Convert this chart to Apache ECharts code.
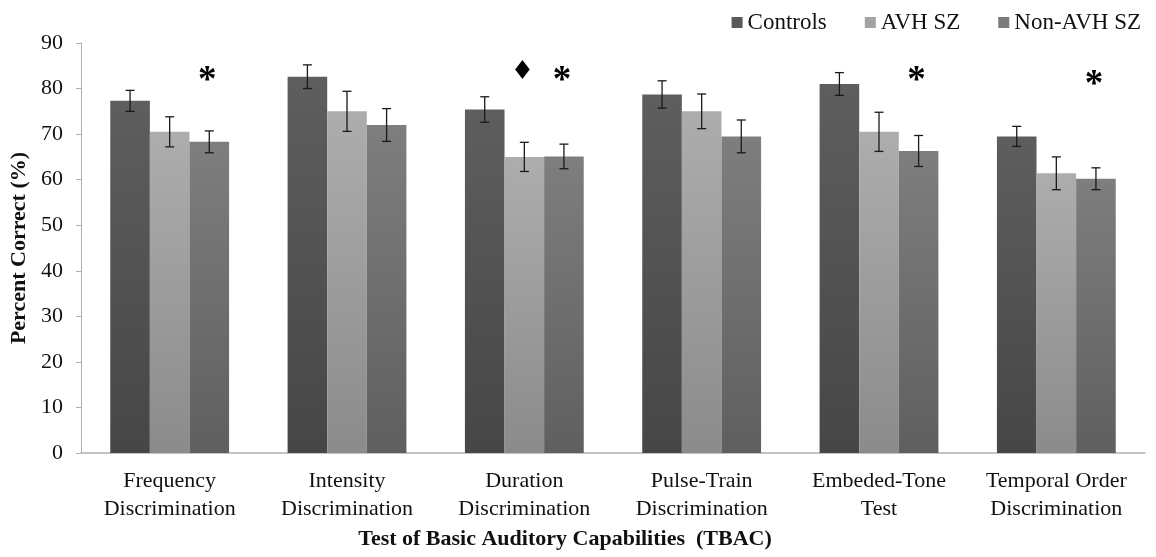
<!DOCTYPE html>
<html><head><meta charset="utf-8">
<script src="https://cdn.jsdelivr.net/npm/echarts@6/dist/echarts.min.js"></script>
<style>html,body{margin:0;padding:0;background:#fff}#c{width:1156px;height:557px}</style>
</head><body><div id="c"></div>
<script>
const categories = ['Frequency\nDiscrimination','Intensity\nDiscrimination','Duration\nDiscrimination','Pulse-Train\nDiscrimination','Embeded-Tone\nTest','Temporal Order\nDiscrimination'];
const seriesNames = ['Controls','AVH SZ','Non-AVH SZ'];
const controls = [77.3, 82.6, 75.4, 78.7, 81.0, 69.5];
const avh      = [70.5, 75.0, 65.0, 75.0, 70.5, 61.4];
const nonAvh   = [68.3, 72.0, 65.1, 69.5, 66.3, 60.2];
const controlsErr = [2.3, 2.6, 2.8, 3.0, 2.5, 2.2];
const avhErr      = [3.3, 4.4, 3.2, 3.8, 4.3, 3.6];
const nonAvhErr   = [2.4, 3.6, 2.7, 3.6, 3.4, 2.4];
// significance markers: [categoryIndex, seriesIndex, yValue, symbol]
const markers = [[0,2,83.3,'*'],[2,1,83.5,'♦'],[2,2,83.3,'*'],[4,2,83.3,'*'],[5,2,82.5,'*']];
const yTicks = {min:0, max:90, interval:10};

const values = [controls, avh, nonAvh];
const errs = [controlsErr, avhErr, nonAvhErr];
const gap = 0.33;
function grad(top, bottom){
  return new echarts.graphic.LinearGradient(0,0,0,1,[{offset:0,color:top},{offset:1,color:bottom}]);
}
const fills = [grad('#5e5e5e','#464646'), grad('#adadad','#8b8b8b'), grad('#7e7e7e','#5f5f5f')];
const legendColors = ['#5a5a5a','#a3a3a3','#7b7b7b'];
const serif = '"Liberation Serif", "Times New Roman", serif';

function offsetFor(api, s){
  const band = api.size([1,0])[0];
  const bw = band*(1-gap)/3;
  return {bw, off:(s-1)*bw};
}

const series = [];
values.forEach((v,i)=>{
  series.push({name:seriesNames[i], type:'bar', data:v, barGap:'0%', barCategoryGap:(gap*100)+'%',
    itemStyle:{color:fills[i]}, z:2});
});
values.forEach((v,i)=>{
  series.push({type:'custom', z:5, silent:true,
    data: v.map((val,j)=>[j, val-errs[i][j], val+errs[i][j]]),
    renderItem:function(params, api){
      const j = api.value(0);
      const lo = api.coord([j, api.value(1)]);
      const hi = api.coord([j, api.value(2)]);
      const o = offsetFor(api, i);
      const x = lo[0]+o.off;
      const cap = 4.5;
      const st = {stroke:'#1a1a1a', lineWidth:1.3};
      return {type:'group', children:[
        {type:'line', shape:{x1:x,y1:lo[1],x2:x,y2:hi[1]}, style:st},
        {type:'line', shape:{x1:x-cap,y1:lo[1],x2:x+cap,y2:lo[1]}, style:st},
        {type:'line', shape:{x1:x-cap,y1:hi[1],x2:x+cap,y2:hi[1]}, style:st}
      ]};
    }});
});
series.push({type:'custom', z:6, silent:true, data:markers,
  renderItem:function(params, api){
    const j = api.value(0), s = api.value(1);
    const p = api.coord([j, api.value(2)]);
    const o = offsetFor(api, s);
    const sym = markers[params.dataIndex][3];
    const isStar = sym==='*';
    return {type:'text', x:p[0]+o.off-2, y:p[1]+(isStar?8:0), style:{text:sym, fill:'#000',
      font: isStar ? 'bold 37px "Liberation Serif"' : '26px "DejaVu Sans"',
      align:'center', verticalAlign:'middle'}};
  }});

const chart = echarts.init(document.getElementById('c'));
chart.setOption({
  animation:false,
  backgroundColor:'#fff',
  textStyle:{fontFamily:serif},
  legend:{data:seriesNames.map((n,i)=>({name:n, itemStyle:{color:legendColors[i]}})),
    right:10, top:6, icon:'rect', itemWidth:11, itemHeight:11, itemGap:38,
    textStyle:{fontFamily:serif, fontSize:23, color:'#111'}},
  grid:{left:81, right:11, top:43, bottom:104},
  xAxis:{type:'category', data:categories,
    axisLine:{lineStyle:{color:'#b0b0b0', width:1.5}}, axisTick:{show:false},
    axisLabel:{fontFamily:serif, fontSize:22, color:'#111', lineHeight:28, margin:14, interval:0},
    name:'Test of Basic Auditory Capabilities  (TBAC)', nameLocation:'middle', nameGap:74,
    nameTextStyle:{fontFamily:serif, fontSize:22, fontWeight:'bold', color:'#111', padding:[0,96,0,0]}},
  yAxis:{type:'value', min:yTicks.min, max:yTicks.max, interval:yTicks.interval,
    splitLine:{show:false},
    axisLine:{show:true, lineStyle:{color:'#b0b0b0', width:1}},
    axisTick:{show:true, length:5, lineStyle:{color:'#b0b0b0'}},
    axisLabel:{fontFamily:serif, fontSize:22, color:'#111', margin:18},
    name:'Percent Correct (%)', nameLocation:'middle', nameGap:50, nameRotate:90,
    nameTextStyle:{fontFamily:serif, fontSize:22, fontWeight:'bold', color:'#111'}},
  series:series
});
</script></body></html>
